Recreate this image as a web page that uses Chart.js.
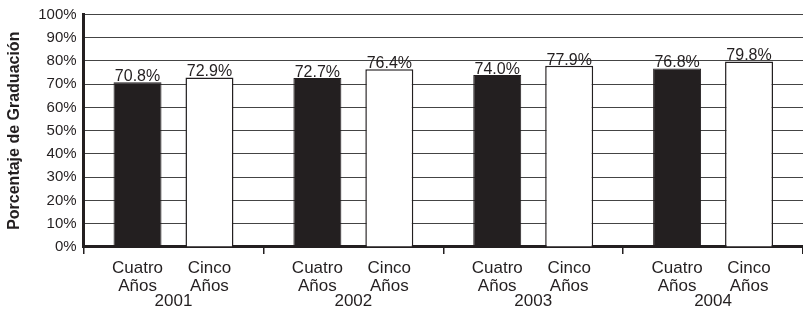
<!DOCTYPE html>
<html>
<head>
<meta charset="utf-8">
<script src="https://cdn.jsdelivr.net/npm/chart.js@4"></script>
<style>
  html, body { margin: 0; padding: 0; background: #fff; }
  #wrap { width: 803px; height: 314px; }
</style>
</head>
<body>
<div id="wrap"><canvas id="grad-chart"></canvas></div>
<script>
// graduation rates
const years = ['2001', '2002', '2003', '2004'];
const cuatroAnos = [70.8, 72.7, 74.0, 76.8];
const cincoAnos = [72.9, 76.4, 77.9, 79.8];
const subLabels = [['Cuatro', 'Años'], ['Cinco', 'Años']];
const yTicks = [0, 10, 20, 30, 40, 50, 60, 70, 80, 90, 100];

const ink = '#231f20';
const fontName = '"Liberation Sans", Arial, sans-serif';

// labels above bars + the "Cuatro/Cinco Años" line under each bar
const barText = {
    id: 'barText',
    afterDatasetsDraw(chart) {
        const ctx = chart.ctx;
        const bottom = chart.chartArea.bottom;
        ctx.save();
        ctx.fillStyle = ink;
        ctx.textAlign = 'center';
        chart.data.datasets.forEach((ds, i) => {
            const meta = chart.getDatasetMeta(i);
            meta.data.forEach((bar, j) => {
                ctx.font = '16px ' + fontName;
                ctx.textBaseline = 'alphabetic';
                ctx.fillText(ds.data[j].toFixed(1) + '%', bar.x, bar.y - 1);

                ctx.font = '17px ' + fontName;
                ctx.fillText(subLabels[i][0], bar.x, bottom + 26);
                ctx.fillText(subLabels[i][1], bar.x, bottom + 44);
            });
        });
        ctx.restore();
    }
};

const ctx = document.getElementById('grad-chart').getContext('2d');
new Chart(ctx, {
    type: 'bar',
    data: {
        labels: years,
        datasets: [{
            label: 'Cuatro Años',
            data: cuatroAnos,
            backgroundColor: ink,
            borderColor: ink,
            borderWidth: 1,
            categoryPercentage: 0.8,
            barPercentage: 0.667
        }, {
            label: 'Cinco Años',
            data: cincoAnos,
            backgroundColor: '#ffffff',
            borderColor: ink,
            borderWidth: 1.5,
            categoryPercentage: 0.8,
            barPercentage: 0.667
        }]
    },
    options: {
        responsive: true,
        maintainAspectRatio: false,
        animation: false,
        layout: { padding: { top: 2, right: 0, bottom: 2, left: 5 } },
        plugins: {
            legend: { display: false },
            tooltip: { enabled: false }
        },
        scales: {
            x: {
                offset: true,
                grid: {
                    offset: true,
                    drawOnChartArea: false,
                    color: ink,
                    lineWidth: 1.5,
                    tickLength: 7
                },
                border: { color: ink, width: 3 },
                ticks: {
                    color: ink,
                    font: { family: fontName, size: 17, lineHeight: 1.06 },
                    padding: 2,
                    maxRotation: 0,
                    callback: function (value) {
                        return ['', '', years[value]];
                    }
                }
            },
            y: {
                min: 0,
                max: 100,
                afterBuildTicks: axis => {
                    axis.ticks = yTicks.map(v => ({ value: v }));
                },
                grid: { color: '#444', lineWidth: 1, drawTicks: false },
                border: { color: ink, width: 3 },
                ticks: {
                    color: ink,
                    font: { family: fontName, size: 15, lineHeight: 1 },
                    padding: 7,
                    callback: v => v + '%'
                },
                title: {
                    display: true,
                    text: 'Porcentaje de Graduación',
                    color: ink,
                    font: { family: fontName, size: 16, weight: 'bold' },
                    padding: { top: 0, bottom: 7 }
                }
            }
        }
    },
    plugins: [barText]
});
</script>
</body>
</html>
